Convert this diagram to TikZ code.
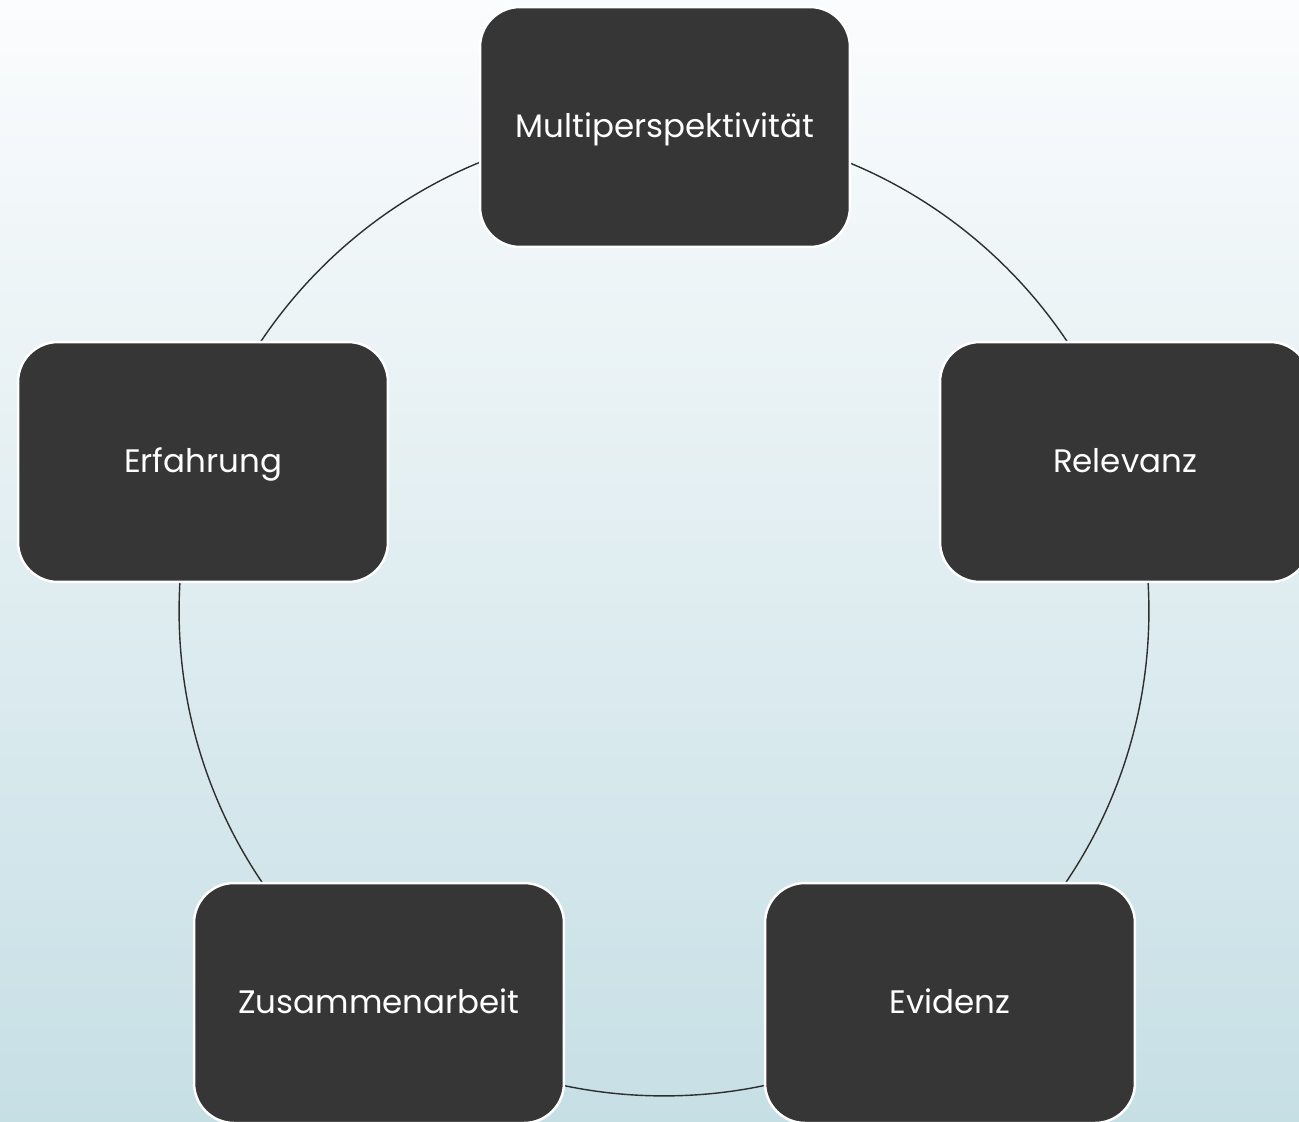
\documentclass[tikz,border=0pt]{standalone}
\usepackage{fontspec}
\setmainfont{Poppins}
\usepackage{tikz}
\usetikzlibrary{positioning}
\definecolor{slate}{HTML}{363636}
\definecolor{ringline}{HTML}{2E2E2E}
\definecolor{skyTop}{HTML}{FBFCFD}
\definecolor{skyBottom}{HTML}{C6DFE5}

\begin{document}
\begin{tikzpicture}[x=0.02cm,y=-0.02cm,
    pillar/.style={rounded corners=0.8cm,draw=white,line width=1.4pt,fill=slate,
      minimum width=7.4cm,minimum height=4.8cm,align=center,text=white,
      text height=1.17em,text depth=0pt,
      font=\fontsize{18.5}{22}\selectfont}]
    \useasboundingbox (0,0) rectangle (1299,1122);
    \clip (0,0) rectangle (1299,1122);
    \shade[top color=skyTop,bottom color=skyBottom] (0,0) rectangle (1299,1122);
    % ring behind the five boxes
    \coordinate (hub) at (664,611);
    \draw[ringline,line width=0.8pt] (hub) circle[radius=9.7cm];
    \node[pillar] (multi) at (665,127) {Multiperspektivität};
    \node[pillar] (relevanz) at (1125,462) {Relevanz};
    \node[pillar] (evidenz) at (950,1003) {Evidenz};
    \node[pillar] (zusammen) at (379,1003) {Zusammenarbeit};
    \node[pillar] (erfahrung) at (203,462) {Erfahrung};
\end{tikzpicture}
\end{document}
